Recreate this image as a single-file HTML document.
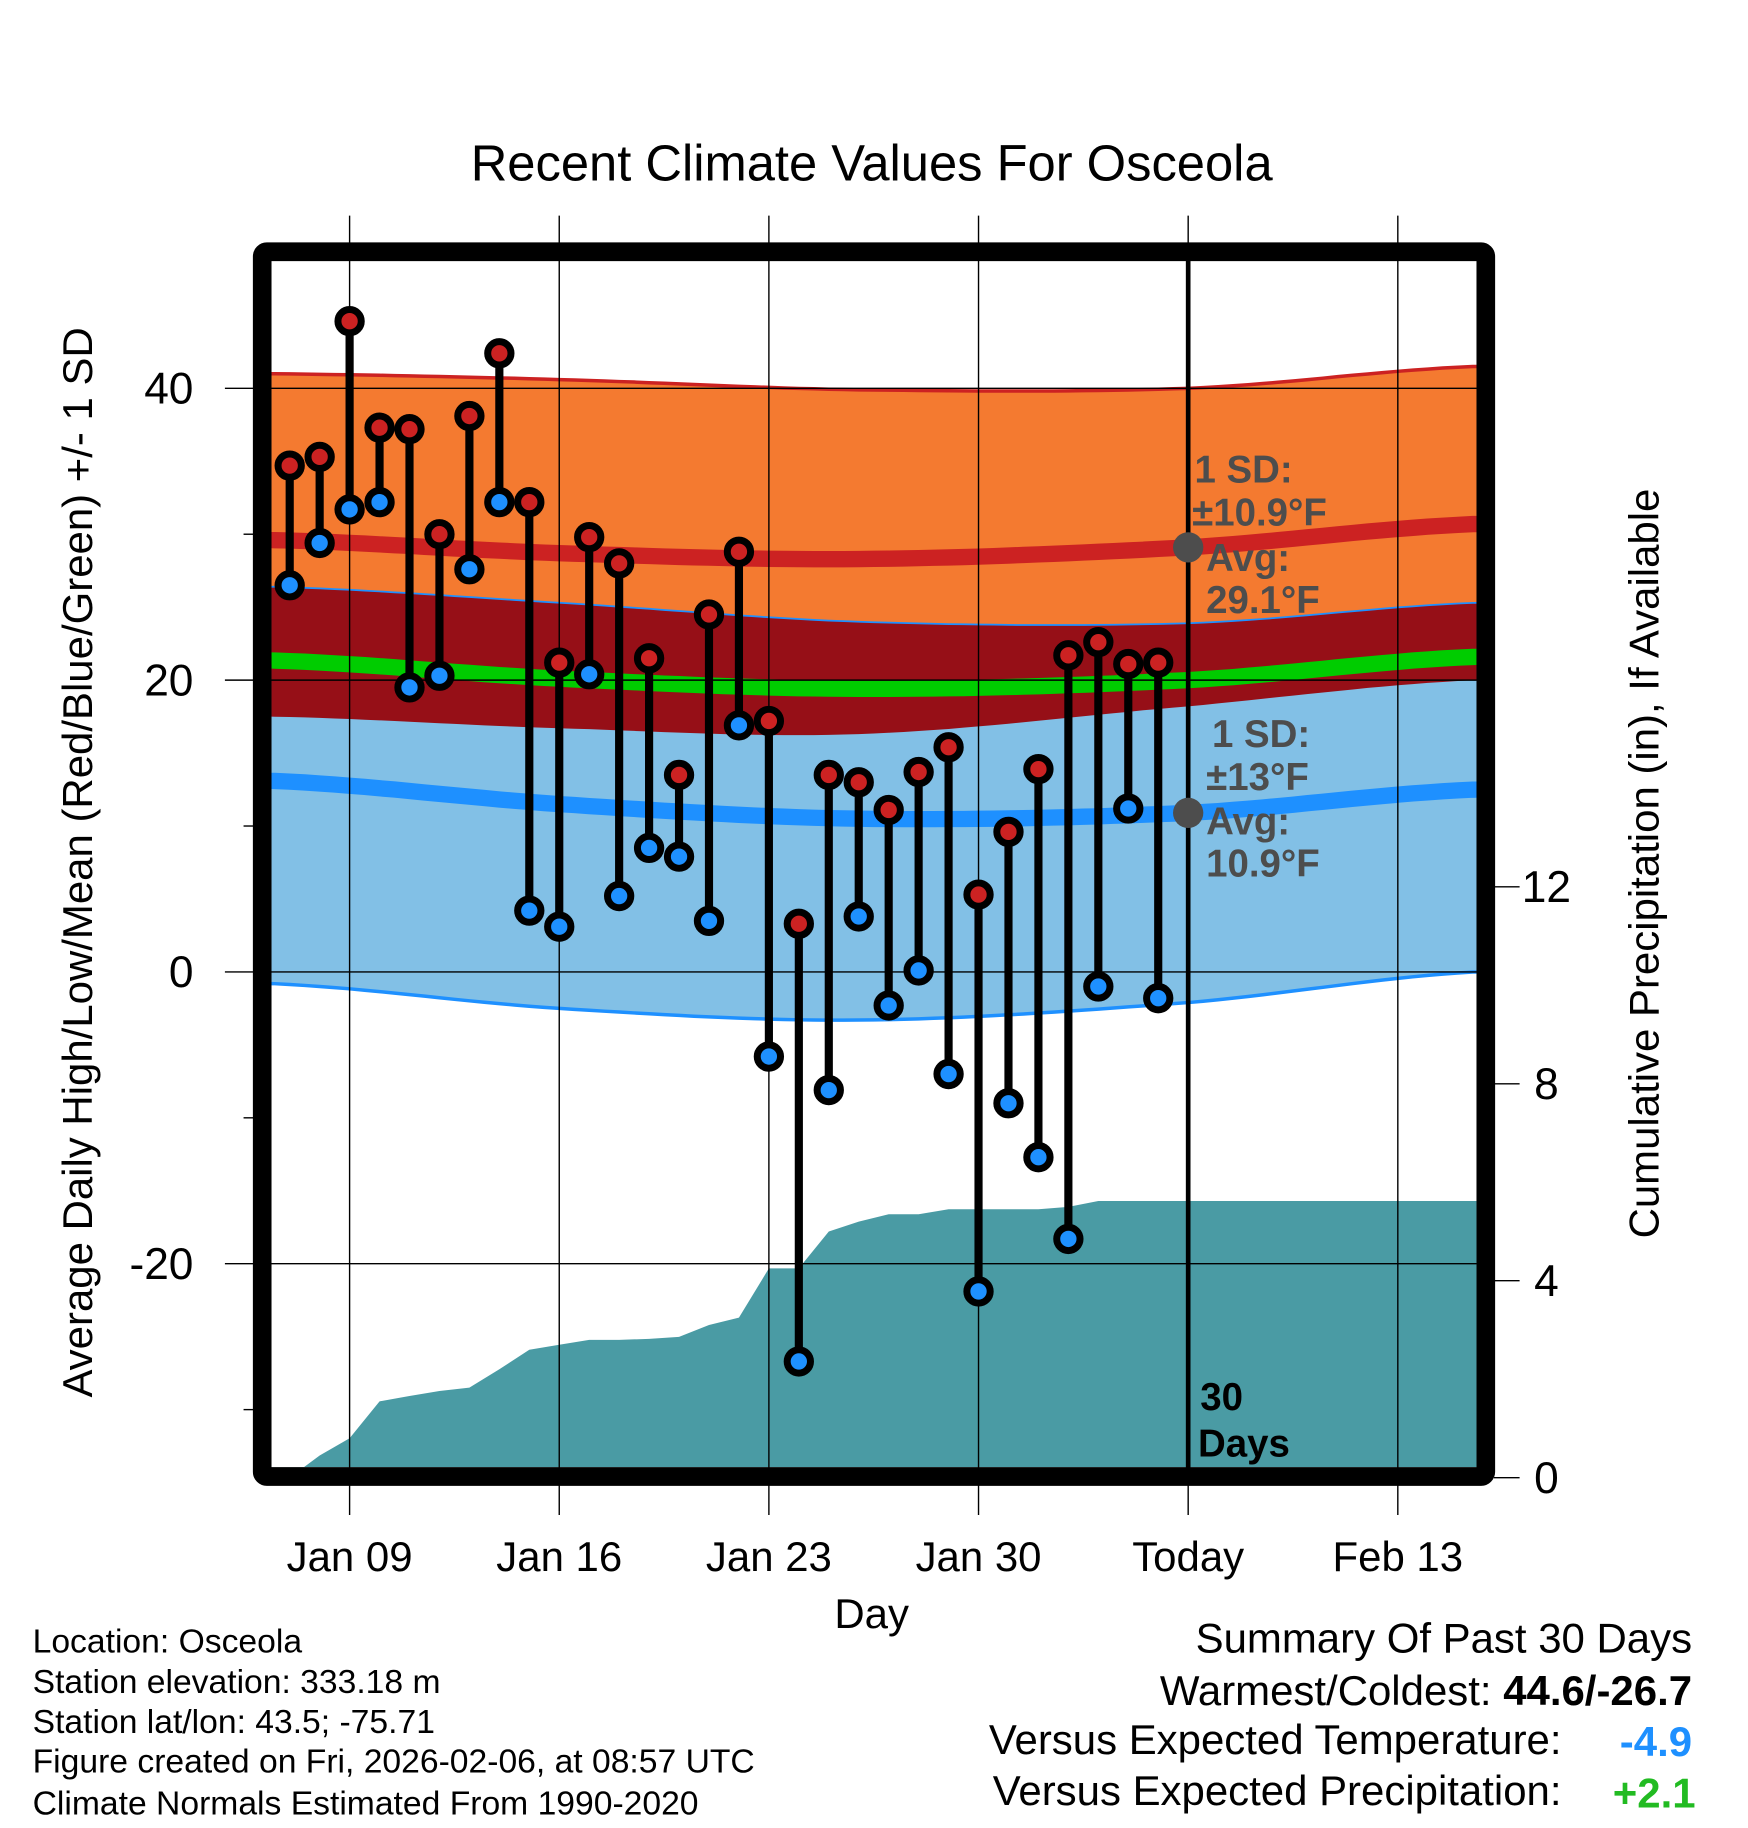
<!DOCTYPE html>
<html><head><meta charset="utf-8">
<style>
html,body{margin:0;padding:0;background:#fff;}
svg{display:block;font-family:"Liberation Sans",Arial,sans-serif;}
</style></head>
<body>
<svg id="chart" width="1748" height="1828" viewBox="0 0 1500 1568.6" xmlns="http://www.w3.org/2000/svg">
<text x="748" y="155" font-size="43.5" text-anchor="middle">Recent Climate Values For Osceola</text>
<g id="plot"></g>
<text transform="translate(79,740) rotate(-90)" font-size="36" text-anchor="middle">Average Daily High/Low/Mean (Red/Blue/Green) +/- 1 SD</text>
<text transform="translate(1423,741) rotate(-90)" font-size="36" text-anchor="middle">Cumulative Precipitation (in), If Available</text>
<text x="748" y="1397" font-size="36" text-anchor="middle">Day</text>
<g font-size="28.9">
<text x="28" y="1418">Location: Osceola</text>
<text x="28" y="1453">Station elevation: 333.18 m</text>
<text x="28" y="1487">Station lat/lon: 43.5; -75.71</text>
<text x="28" y="1521">Figure created on Fri, 2026-02-06, at 08:57 UTC</text>
<text x="28" y="1557">Climate Normals Estimated From 1990-2020</text>
</g>
<g font-size="36" text-anchor="end">
<text x="1452" y="1418">Summary Of Past 30 Days</text>
<text x="1452" y="1463">Warmest/Coldest: <tspan font-weight="bold">44.6/-26.7</tspan></text>
<text x="1340" y="1505">Versus Expected Temperature:</text>
<text x="1452" y="1507" fill="#1e90ff" font-weight="bold">-4.9</text>
<text x="1340" y="1549">Versus Expected Precipitation:</text>
<text x="1455" y="1551" fill="#22bb22" font-weight="bold">+2.1</text>
</g>
</svg>
<script>
// ---- data ----
const dayLabels = ["Jan 09","Jan 16","Jan 23","Jan 30","Today","Feb 13"];
const dayLabelOffsets = [0,7,14,21,28,35]; // days from Jan 09
const highs = [34.7,35.3,44.6,37.3,37.2,30.0,38.1,42.4,32.2,21.2,29.8,28.0,21.5,13.5,24.5,28.8,17.2,3.3,13.5,13.0,11.1,13.7,15.4,5.3,9.6,13.9,21.7,22.6,21.1,21.2];
const lows  = [26.5,29.4,31.7,32.2,19.5,20.3,27.6,32.2,4.2,3.1,20.4,5.2,8.5,7.9,3.5,16.9,-5.8,-26.7,-8.1,3.8,-2.3,0.1,-7.0,-21.9,-9.0,-12.7,-18.3,-1.0,11.2,-1.8];
const precip = [0,0.45,0.8,1.55,1.66,1.76,1.83,2.2,2.6,2.7,2.8,2.8,2.82,2.86,3.1,3.25,4.25,4.25,5.0,5.2,5.35,5.35,5.45,5.45,5.45,5.45,5.5,5.62,5.62,5.62];
const normDays = [-2.6,7,17,28,37.6];
const hiUp  = [41.0,40.6,39.9,40.0,41.5];
const hiAvg = [29.6,28.7,28.3,29.1,30.7];
const hiLo  = [17.5,16.7,16.3,18.2,20.0];
const loUp  = [26.4,25.3,24.0,23.9,25.3];
const loAvg = [13.1,11.5,10.5,10.9,12.5];
const loLo  = [-0.8,-2.5,-3.3,-2.1,0.0];
const yTicks = [40,20,0,-20];
const yMinor = [30,10,-10,-30];
const y2Ticks = [0,4,8,12];
const firstDay = -2; // Jan 07 relative to Jan 09
const todayDay = 28;

// ---- axes ----
const X0=233,X1=1267,Y0=224,Y1=1259;
const xs = d => 300 + d*25.7;
const ys = v => 834 - v*12.52;
const y2s = v => 1268 - v*42.25;
const NS="http://www.w3.org/2000/svg";
const plot=document.getElementById('plot');
function el(tag,attrs,parent){const e=document.createElementNS(NS,tag);for(const k in attrs)e.setAttribute(k,attrs[k]);(parent||plot).appendChild(e);return e;}

const defs=el('defs',{});
const cp=el('clipPath',{id:'clip'},defs);
el('rect',{x:X0,y:Y0,width:X1-X0,height:Y1-Y0},cp);
const g=el('g',{'clip-path':'url(#clip)'});

function interp(arr,d){
  const n=normDays.length;
  let i=0; while(i<n-2 && d>normDays[i+1]) i++;
  const p0=arr[Math.max(i-1,0)],p1=arr[i],p2=arr[i+1],p3=arr[Math.min(i+2,n-1)];
  const t=Math.max(0,Math.min(1,(d-normDays[i])/(normDays[i+1]-normDays[i])));
  const t2=t*t,t3=t2*t;
  return 0.5*((2*p1)+(-p0+p2)*t+(2*p0-5*p1+4*p2-p3)*t2+(-p0+3*p1-3*p2+p3)*t3);
}
const samples=[]; for(let d=-3;d<=38.5;d+=0.5) samples.push(d);
function linePts(fn){return samples.map(d=>xs(d).toFixed(1)+','+ys(fn(d)).toFixed(1));}
function band(fa,fb){const a=linePts(fa),b=linePts(fb).reverse();return 'M'+a.join('L')+'L'+b.join('L')+'Z';}
const fHU=d=>interp(hiUp,d),fHA=d=>interp(hiAvg,d),fHL=d=>interp(hiLo,d);
const fLU=d=>interp(loUp,d),fLA=d=>interp(loAvg,d),fLL=d=>interp(loLo,d);
const fM=d=>(fHA(d)+fLA(d))/2;

let e;
e=el('path',{d:band(fHU,fHL),fill:'#f47a30'},g);


e=el('path',{d:band(fLU,fLL),fill:'#82c0e6'},g);


e=el('path',{d:band(fLU,fHL),fill:'#960f17'},g);


el('path',{d:'M'+linePts(fHU).join('L'),fill:'none',stroke:'#cc2222',"stroke-width":3},g);
el('path',{d:'M'+linePts(fLU).join('L'),fill:'none',stroke:'#1e90ff',"stroke-width":1.5},g);
el('path',{d:'M'+linePts(fLL).join('L'),fill:'none',stroke:'#1e90ff',"stroke-width":3},g);

let pp='M'+X0+','+y2s(0);
precip.forEach((v,i)=>{pp+='L'+xs(firstDay+i).toFixed(1)+','+y2s(v).toFixed(1);});
pp+='L'+X1+','+y2s(precip[precip.length-1]).toFixed(1)+'L'+X1+','+Y1+'L'+X0+','+Y1+'Z';
e=el('path',{d:pp,fill:'#4a9ba4'},g);



dayLabelOffsets.forEach(d=>{el('line',{x1:xs(d),x2:xs(d),y1:185,y2:1300,stroke:'#000','stroke-width':1.2});});
yTicks.forEach(v=>{el('line',{x1:193,x2:X1,y1:ys(v),y2:ys(v),stroke:'#000','stroke-width':1.2});});
yMinor.forEach(v=>{el('line',{x1:209,x2:220,y1:ys(v),y2:ys(v),stroke:'#000','stroke-width':1.2});});
y2Ticks.forEach(v=>{el('line',{x1:1282,x2:1304,y1:y2s(v),y2:y2s(v),stroke:'#000','stroke-width':1.2});});

e=el('path',{d:'M'+linePts(fHA).join('L'),fill:'none',stroke:'#cc2222','stroke-width':14},g);


e=el('path',{d:'M'+linePts(fLA).join('L'),fill:'none',stroke:'#1e90ff','stroke-width':14},g);


e=el('path',{d:'M'+linePts(fM).join('L'),fill:'none',stroke:'#00cc00','stroke-width':14},g);



e=el('line',{x1:xs(todayDay),x2:xs(todayDay),y1:216,y2:1267,stroke:'#000','stroke-width':4});



const tx=xs(todayDay);
el('circle',{cx:tx,cy:ys(hiAvg[3]),r:13,fill:'#4d4d4d'});
el('circle',{cx:tx,cy:ys(loAvg[3]),r:13,fill:'#4d4d4d'});
const ann=el('g',{fill:'#4d4d4d','font-weight':'bold','font-size':33});


[["1 SD:",1025,414],["±10.9°F",1023,451],["Avg:",1035,490],["29.1°F",1035,526],
 ["1 SD:",1040,641],["±13°F",1035,678],["Avg:",1035,716],["10.9°F",1035,752]].forEach(a=>{
  const t=el('text',{x:a[1],y:a[2]},ann);t.textContent=a[0];});
const dl=el('g',{'font-weight':'bold','font-size':33});


let t1=el('text',{x:1030,y:1210},dl);t1.textContent='30';
t1=el('text',{x:1028,y:1250},dl);t1.textContent='Days';

e=el('rect',{x:225,y:216,width:1050,height:1051,fill:'none',stroke:'#000','stroke-width':16,rx:4});



yTicks.forEach(v=>{const t=el('text',{x:166,y:ys(v)+13,'font-size':38,'text-anchor':'end'});t.textContent=v;

});
y2Ticks.forEach(v=>{const t=el('text',{x:1327,y:y2s(v)+13,'font-size':38,'text-anchor':'middle'});t.textContent=v;

});
dayLabels.forEach((s,i)=>{const t=el('text',{x:xs(dayLabelOffsets[i]),y:1348,'font-size':36,'text-anchor':'middle'});t.textContent=s;

});

highs.forEach((h,i)=>{
  const x=xs(firstDay+i);
  const s=el('line',{x1:x,x2:x,y1:ys(h),y2:ys(lows[i]),stroke:'#000','stroke-width':7});
  
  
});
highs.forEach((h,i)=>{
  const x=xs(firstDay+i);
  const a=el('circle',{cx:x,cy:ys(h),r:10,fill:'#cc2222',stroke:'#000','stroke-width':6});
  
  
  const b=el('circle',{cx:x,cy:ys(lows[i]),r:10,fill:'#1e90ff',stroke:'#000','stroke-width':6});
  
  
});
</script>
</body></html>
